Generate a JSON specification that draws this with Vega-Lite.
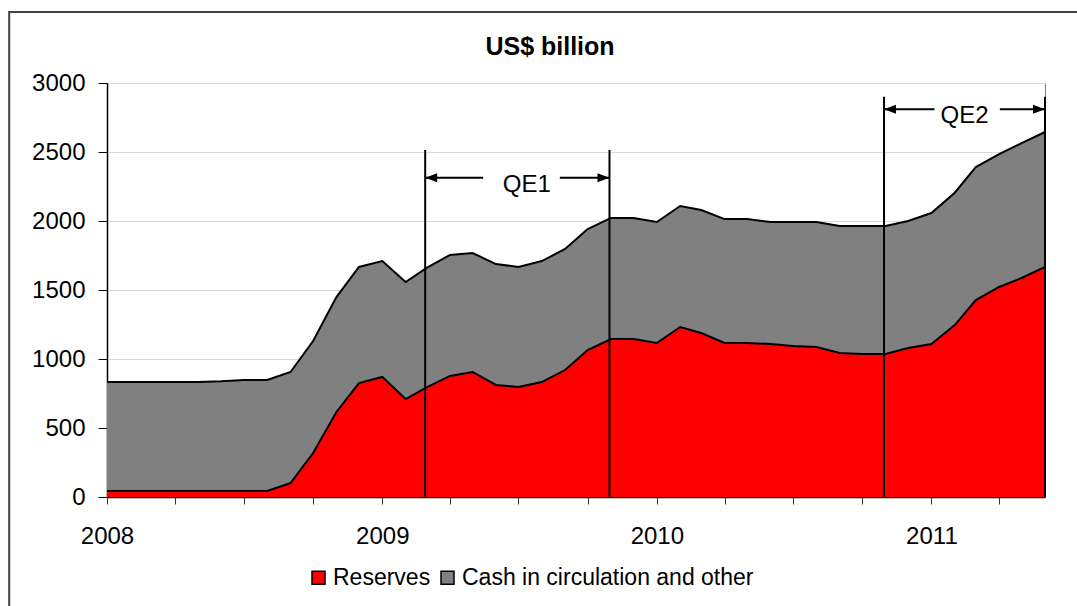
{
  "$schema": "https://vega.github.io/schema/vega-lite/v6.json",
  "width": 938,
  "height": 414,
  "autosize": {"type": "none"},
  "padding": {"left": 107, "top": 83, "right": 32, "bottom": 109},
  "background": "white",
  "config": {
    "font": "Liberation Sans",
    "view": {"stroke": "#808080", "strokeWidth": 1}
  },
  "title": {
    "text": "US$ billion",
    "font": "Liberation Sans",
    "fontSize": 25,
    "fontWeight": "bold",
    "color": "black",
    "anchor": "middle",
    "frame": "group",
    "offset": -49,
    "dx": -26
  },
  "datasets": {
    "frame": [{"x0": "2007-08-24T00:00", "x1": "2012-06-01T00:00", "y0": 3514, "y1": -2000}],
    "balance": [
      {"date": "2008-01-01T00:00", "Reserves": 43, "Cash in circulation and other": 790},
      {"date": "2008-02-01T00:00", "Reserves": 43, "Cash in circulation and other": 790},
      {"date": "2008-03-01T00:00", "Reserves": 43, "Cash in circulation and other": 790},
      {"date": "2008-04-01T00:00", "Reserves": 43, "Cash in circulation and other": 790},
      {"date": "2008-05-01T00:00", "Reserves": 43, "Cash in circulation and other": 790},
      {"date": "2008-06-01T00:00", "Reserves": 43, "Cash in circulation and other": 795},
      {"date": "2008-07-01T00:00", "Reserves": 43, "Cash in circulation and other": 805},
      {"date": "2008-08-01T00:00", "Reserves": 43, "Cash in circulation and other": 805},
      {"date": "2008-09-01T00:00", "Reserves": 101, "Cash in circulation and other": 805},
      {"date": "2008-10-01T00:00", "Reserves": 319, "Cash in circulation and other": 811},
      {"date": "2008-11-01T00:00", "Reserves": 616, "Cash in circulation and other": 833},
      {"date": "2008-12-01T00:00", "Reserves": 826, "Cash in circulation and other": 841},
      {"date": "2009-01-01T00:00", "Reserves": 870, "Cash in circulation and other": 840},
      {"date": "2009-02-01T00:00", "Reserves": 710, "Cash in circulation and other": 848},
      {"date": "2009-03-01T00:00", "Reserves": 795, "Cash in circulation and other": 865},
      {"date": "2009-04-01T00:00", "Reserves": 877, "Cash in circulation and other": 877},
      {"date": "2009-05-01T00:00", "Reserves": 906, "Cash in circulation and other": 862},
      {"date": "2009-06-01T00:00", "Reserves": 812, "Cash in circulation and other": 876},
      {"date": "2009-07-01T00:00", "Reserves": 797, "Cash in circulation and other": 870},
      {"date": "2009-08-01T00:00", "Reserves": 833, "Cash in circulation and other": 877},
      {"date": "2009-09-01T00:00", "Reserves": 920, "Cash in circulation and other": 877},
      {"date": "2009-10-01T00:00", "Reserves": 1065, "Cash in circulation and other": 877},
      {"date": "2009-11-01T00:00", "Reserves": 1145, "Cash in circulation and other": 877},
      {"date": "2009-12-01T00:00", "Reserves": 1145, "Cash in circulation and other": 877},
      {"date": "2010-01-01T00:00", "Reserves": 1116, "Cash in circulation and other": 877},
      {"date": "2010-02-01T00:00", "Reserves": 1232, "Cash in circulation and other": 877},
      {"date": "2010-03-01T00:00", "Reserves": 1188, "Cash in circulation and other": 892},
      {"date": "2010-04-01T00:00", "Reserves": 1116, "Cash in circulation and other": 898},
      {"date": "2010-05-01T00:00", "Reserves": 1116, "Cash in circulation and other": 898},
      {"date": "2010-06-01T00:00", "Reserves": 1109, "Cash in circulation and other": 884},
      {"date": "2010-07-01T00:00", "Reserves": 1094, "Cash in circulation and other": 899},
      {"date": "2010-08-01T00:00", "Reserves": 1087, "Cash in circulation and other": 906},
      {"date": "2010-09-01T00:00", "Reserves": 1043, "Cash in circulation and other": 921},
      {"date": "2010-10-01T00:00", "Reserves": 1036, "Cash in circulation and other": 928},
      {"date": "2010-11-01T00:00", "Reserves": 1036, "Cash in circulation and other": 928},
      {"date": "2010-12-01T00:00", "Reserves": 1080, "Cash in circulation and other": 920},
      {"date": "2011-01-01T00:00", "Reserves": 1109, "Cash in circulation and other": 949},
      {"date": "2011-02-01T00:00", "Reserves": 1246, "Cash in circulation and other": 959},
      {"date": "2011-03-01T00:00", "Reserves": 1427, "Cash in circulation and other": 964},
      {"date": "2011-04-01T00:00", "Reserves": 1522, "Cash in circulation and other": 963},
      {"date": "2011-05-01T00:00", "Reserves": 1587, "Cash in circulation and other": 978},
      {"date": "2011-06-01T00:00", "Reserves": 1667, "Cash in circulation and other": 978}
    ],
    "qeLines": [
      {"d": "2009-02-27T00:00", "bottom": 0, "top": 2515},
      {"d": "2009-10-30T00:00", "bottom": 0, "top": 2515},
      {"d": "2010-10-30T00:00", "bottom": 0, "top": 2900},
      {"d": "2011-06-01T00:00", "bottom": 0, "top": 2900}
    ],
    "qeArrows": [
      {"label": "QE1", "a": "2009-02-27T00:00", "a2": "2009-05-15T00:00", "b": "2009-08-25T00:00", "b2": "2009-10-30T00:00", "mid": "2009-07-12T00:00", "y": 2313},
      {"label": "QE2", "a": "2010-10-30T00:00", "a2": "2011-01-05T00:00", "b": "2011-04-02T00:00", "b2": "2011-06-01T00:00", "mid": "2011-02-14T00:00", "y": 2810}
    ]
  },
  "layer": [
    {
      "data": {"name": "frame"},
      "mark": {"type": "rect", "filled": false, "stroke": "#404040", "strokeWidth": 2, "clip": false},
      "encoding": {
        "x": {"field": "x0", "type": "temporal"},
        "x2": {"field": "x1"},
        "y": {"field": "y0", "type": "quantitative"},
        "y2": {"field": "y1"}
      }
    },
    {
      "data": {"name": "balance"},
      "transform": [{"fold": ["Reserves", "Cash in circulation and other"], "as": ["series", "value"]}],
      "mark": {"type": "area", "opacity": 1},
      "encoding": {
        "x": {
          "field": "date",
          "type": "temporal",
          "scale": {"domain": [{"year": 2008, "month": 1, "date": 1}, {"year": 2011, "month": 6, "date": 1}]},
          "axis": {
            "title": null,
            "tickCount": {"interval": "month", "step": 3},
            "labelExpr": "month(datum.value) == 0 ? timeFormat(datum.value, '%Y') : ''",
            "grid": false,
            "domainColor": "black",
            "domainWidth": 1.5,
            "tickColor": "#333333",
            "tickWidth": 1,
            "tickSize": 7,
            "labelFontSize": 24,
            "labelColor": "black",
            "labelPadding": 20,
            "labelFlush": false,
            "labelOverlap": false,
            "labelBound": false
          }
        },
        "y": {
          "field": "value",
          "type": "quantitative",
          "stack": "zero",
          "scale": {"domain": [0, 3000], "nice": false},
          "axis": {
            "title": null,
            "values": [0, 500, 1000, 1500, 2000, 2500, 3000],
            "format": "d",
            "grid": true,
            "gridColor": "#d9d9d9",
            "gridWidth": 1,
            "domainColor": "black",
            "domainWidth": 1.5,
            "tickColor": "black",
            "tickSize": 9,
            "labelFontSize": 24,
            "labelColor": "black",
            "labelPadding": 13
          }
        },
        "color": {
          "field": "series",
          "type": "nominal",
          "scale": {"domain": ["Reserves", "Cash in circulation and other"], "range": ["#ff0000", "#808080"]},
          "legend": {
            "orient": "none",
            "legendX": 200,
            "legendY": 483,
            "direction": "horizontal",
            "title": null,
            "labelFontSize": 23,
            "labelColor": "black",
            "labelLimit": 0,
            "symbolType": "square",
            "symbolSize": 169,
            "symbolStrokeColor": "black",
            "symbolStrokeWidth": 1.5,
            "symbolOpacity": 1,
            "labelOffset": 3,
            "columnPadding": 5
          }
        },
        "order": {"field": "series", "sort": "descending"}
      }
    },
    {
      "data": {"name": "balance"},
      "transform": [{"fold": ["Reserves", "Cash in circulation and other"], "as": ["series", "value"]}],
      "mark": {"type": "line", "color": "black", "strokeWidth": 2},
      "encoding": {
        "x": {"field": "date", "type": "temporal"},
        "y": {"field": "value", "type": "quantitative", "stack": "zero"},
        "detail": {"field": "series", "type": "nominal"},
        "order": {"field": "series", "sort": "descending"}
      }
    },
    {
      "data": {"name": "qeLines"},
      "mark": {"type": "rule", "color": "black", "strokeWidth": 2},
      "encoding": {
        "x": {"field": "d", "type": "temporal"},
        "y": {"field": "top", "type": "quantitative"},
        "y2": {"field": "bottom"}
      }
    },
    {
      "data": {"name": "qeArrows"},
      "mark": {"type": "rule", "color": "black", "strokeWidth": 2},
      "encoding": {
        "x": {"field": "a", "type": "temporal"},
        "x2": {"field": "a2"},
        "y": {"field": "y", "type": "quantitative"}
      }
    },
    {
      "data": {"name": "qeArrows"},
      "mark": {"type": "rule", "color": "black", "strokeWidth": 2},
      "encoding": {
        "x": {"field": "b", "type": "temporal"},
        "x2": {"field": "b2"},
        "y": {"field": "y", "type": "quantitative"}
      }
    },
    {
      "data": {"name": "qeArrows"},
      "mark": {"type": "point", "shape": "M0,0L2,-0.75L2,0.75Z", "size": 144, "filled": true, "color": "black", "opacity": 1, "strokeWidth": 0},
      "encoding": {
        "x": {"field": "a", "type": "temporal"},
        "y": {"field": "y", "type": "quantitative"}
      }
    },
    {
      "data": {"name": "qeArrows"},
      "mark": {"type": "point", "shape": "M0,0L-2,-0.75L-2,0.75Z", "size": 144, "filled": true, "color": "black", "opacity": 1, "strokeWidth": 0},
      "encoding": {
        "x": {"field": "b2", "type": "temporal"},
        "y": {"field": "y", "type": "quantitative"}
      }
    },
    {
      "data": {"name": "qeArrows"},
      "mark": {"type": "text", "fontSize": 24, "color": "black", "align": "center", "baseline": "alphabetic", "dy": 14},
      "encoding": {
        "x": {"field": "mid", "type": "temporal"},
        "y": {"field": "y", "type": "quantitative"},
        "text": {"field": "label"}
      }
    }
  ]
}
